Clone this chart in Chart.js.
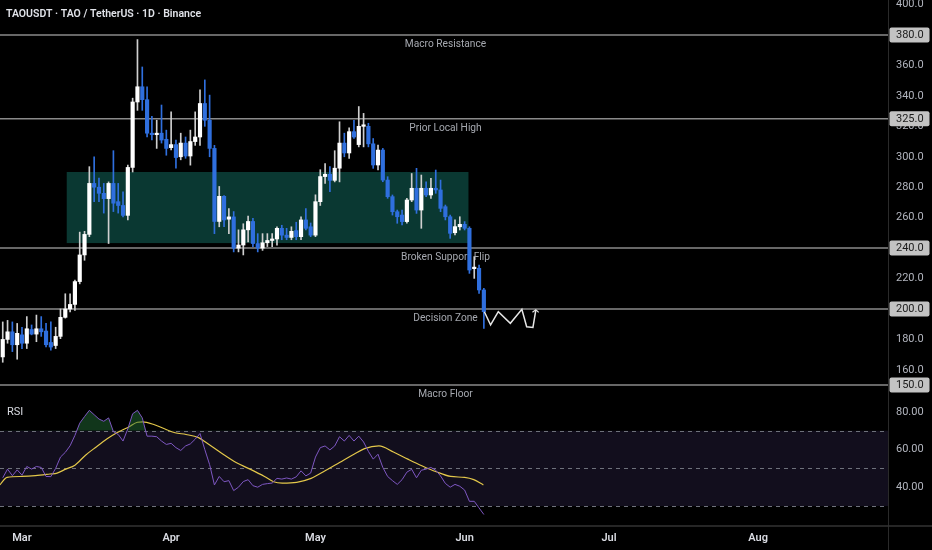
<!DOCTYPE html>
<html>
<head>
<meta charset="utf-8">
<script src="https://cdn.jsdelivr.net/npm/chart.js@4.4.1/dist/chart.umd.min.js"></script>
<style>
  html, body { margin: 0; padding: 0; background: #000; }
  #wrap { position: relative; width: 932px; height: 550px; overflow: hidden; background: #000; }
  #priceBox { position: absolute; left: 0; top: 0; width: 932px; height: 400px; }
  #rsiBox { position: absolute; left: 0; top: 400px; width: 932px; height: 150px; }
</style>
</head>
<body>
<div id="wrap">
  <div id="priceBox"><canvas id="priceChart"></canvas></div>
  <div id="rsiBox"><canvas id="rsiChart"></canvas></div>
</div>
<script>
// TAOUSDT 1D candles, day 0 = 1 Mar
const startDay = -4;
const opens = [
  168.5, 180, 185, 176.5, 183, 177.5, 186.5, 183.5, 187, 185.5,
  178, 176, 182, 194.5, 200, 203, 218, 235.5, 249, 282.5,
  280, 276, 272.5, 282.5, 270.5, 268, 261.5, 293, 336, 346,
  337.5, 315.5, 314.5, 315.5, 311.5, 306, 308, 300, 309, 300.5,
  310, 313, 335, 324, 305.5, 257.5, 274, 259, 260.5, 240,
  242, 252, 257.5, 243, 240, 243.5, 245, 246, 253, 248.5,
  247, 251.5, 247.5, 258.5, 254, 248.5, 270.5, 287, 288.5, 284.5,
  292.5, 309, 302.5, 316.5, 308, 320, 320, 308.5, 294.6, 304.4,
  284.7, 273.8, 263.9, 261.7, 257.4, 271.6, 279.3, 265, 279.3, 274.9,
  279.3, 278.2, 267.2, 260.6, 250.1, 254, 255.6, 253, 226.5, 226.7, 212.5
];
const highs = [
  191.5, 192.5, 191.5, 190.5, 188, 195, 189.5, 196, 195, 190.5,
  191.5, 188, 200, 210, 210, 219, 250.5, 251, 293.5, 300,
  286, 282.5, 283.5, 304, 282.5, 277, 294.5, 338.5, 377, 359,
  346, 326.5, 324, 334, 317.5, 329.5, 311, 315.5, 313, 317.5,
  329.5, 344, 350.5, 340.5, 307.5, 280.5, 274.5, 266, 264, 252,
  256, 261, 259.5, 249.5, 249.5, 249.5, 249.5, 254, 255, 253,
  254, 257, 260.5, 266, 256.5, 275, 291.5, 295.5, 293.5, 304,
  323, 315.5, 319, 324, 333, 328.5, 322, 312, 307.7, 305.5,
  286.9, 274.9, 265, 265, 272.7, 289, 292.4, 288, 283.6, 285.8,
  291.3, 284.7, 268.3, 261.7, 258.5, 260.6, 257.4, 254, 234.4, 228.9, 213.6
];
const lows = [
  165, 177.5, 172, 167, 174, 174, 183, 178.5, 182, 175,
  173, 174, 180.5, 194, 198, 199, 216.5, 232, 247.5, 270.5,
  270.5, 263, 243, 264, 263, 260.5, 258.5, 290, 330.5, 330.5,
  313, 311, 305.5, 309, 301, 304.5, 292.5, 298, 299, 294.5,
  307.5, 307.5, 320, 300, 249.5, 254, 254, 249.5, 237.5, 237.5,
  235.5, 244, 241, 237.5, 238.5, 241, 241, 242, 245.5, 245.5,
  245.5, 245.5, 245.5, 252, 247.5, 247.5, 268, 282.5, 277, 283.5,
  283.5, 300, 299, 312, 306.5, 306.5, 306.5, 292.4, 291.3, 283.6,
  272.7, 261.7, 256.3, 255.2, 256.3, 270.5, 262.8, 253, 273.8, 272.7,
  276, 263.9, 258.5, 246.4, 248.6, 251.9, 251.9, 223.4, 220.1, 210.3, 187.3
];
const closes = [
  180, 185, 176.5, 184, 177.5, 187, 183.5, 187, 185, 176.5,
  175, 182, 194.5, 200, 203, 218, 235.5, 249, 282.5, 280,
  276, 272.5, 282.5, 269.5, 268, 261.5, 293, 336, 346, 337.5,
  315.5, 314.5, 315.5, 311, 305.5, 308, 299.5, 309, 300.5, 310,
  313, 335, 324, 305.5, 257.5, 274, 258.5, 260.5, 240, 242,
  252, 257.5, 243, 240, 243.5, 245, 246, 253, 248.5, 247,
  251, 247.5, 258.5, 253, 248.5, 270.5, 287, 288.5, 284.5, 292.5,
  309, 302.5, 316.5, 313, 320, 321, 308.5, 294.6, 304.4, 284.7,
  273.8, 263.9, 260.6, 257.4, 271.6, 279.3, 265, 279.3, 274.9, 279.3,
  278.2, 266.1, 260.6, 249.7, 254.1, 255.6, 253, 225.6, 227.5, 212.5, 198.2
];

// RSI(14) per candle and its moving average (read at sparse days)
const rsiValues = [
  45, 49.6, 46.1, 49.2, 46.4, 51, 49.6, 51, 50.5, 45.7,
  45.6, 50, 56, 58.5, 62, 67.5, 74, 77.5, 80.8, 78.5,
  76.2, 75, 76.8, 69.5, 68, 64.5, 71, 79, 80.8, 76.8,
  67.1, 67.1, 66.8, 64.5, 62.7, 63.3, 61, 59.5, 61.9, 63,
  65.5, 68.5, 60, 52, 41.2, 45.7, 42.9, 43.5, 38.2, 40,
  43, 44, 40.8, 40, 41.5, 41.9, 42.2, 44.7, 44.3, 44.9,
  44.3, 45.5, 48.7, 46, 47.5, 56, 61, 61.9, 59.8, 61.9,
  66.8, 64.5, 67.5, 64.5, 67.1, 64, 59, 54.9, 57.5, 50.5,
  45.7, 43.5, 41.5, 44, 48, 49.5, 45, 49, 49.6, 50.5,
  49, 46, 42, 40, 41.5, 40.5, 38.5, 32.5, 32.5, 29, 25.5
];
const maDays = [-4.6, -3.1, 0, 2.8, 5.8, 7.3, 9.1, 11, 13.2, 15.5, 17.7, 19.9, 22.2, 24, 25.1,
  27.4, 29.6, 31.8, 34.1, 36.7, 38.5, 41.5, 44.5, 47.4, 50.4, 52.3, 54.1, 57.1, 60.1,
  63, 66, 69, 71.2, 74.2, 77.2, 80.2, 83.1, 86.1, 89.1, 92, 93.9, 95.9];
const maValues = [41.2, 45.2, 45.7, 46.1, 47, 47.5, 49.6, 51.7, 57, 61.5, 65.7, 69.2, 72, 74.5, 74.7,
  73.3, 71, 68.9, 68, 66.3, 63.3, 58, 53.1, 49.6, 45.7, 42.9, 42.2, 42.6, 44.7,
  48.7, 53.1, 57.5, 60.5, 61.9, 58.7, 54.9, 51.4, 48.2, 45.7, 45.2, 44, 41.2];

// drawn levels and the consolidation zone
const levels = [380, 325, 240, 200, 150];
const levelNames = ['Macro Resistance', 'Prior Local High', 'Broken Support Flip', 'Decision Zone', 'Macro Floor'];
const zoneDays = [9.3, 92.8];
const zonePrices = [243.3, 290];

// projected zigzag after the last candle
const pathDays = [96.1, 97.4, 99.0, 101.5, 103.9, 104.9, 106.2, 106.8];
const pathPrices = [198.2, 189.5, 198.2, 190.6, 199.8, 188.3, 187.9, 199.3];
const arrowDays = [106.1, 106.8, 107.4];
const arrowPrices = [197.9, 199.5, 197.8];

const priceTicks = [160, 180, 200, 220, 240, 260, 280, 300, 320, 340, 360, 380, 400];
const rsiTicks = [40, 60, 80];
const rsiLines = [70, 50, 30];
const monthTicks = [0, 31, 61, 92, 122, 153];
const monthNames = ['Mar', 'Apr', 'May', 'Jun', 'Jul', 'Aug'];

const dayRange = [-4.57, 180];
const priceRange = [140.2, 403];
const rsiRange = [19.4, 86.3];

const UP = '#ffffff';
const DOWN = '#2f6fde';
const FONT = 'Roboto';
const AXIS_W = 44;

const candleDays = opens.map((_, i) => startDay + i);
const upAt = i => closes[i] >= opens[i];

function fixAxis(width) {
  return s => { s.width = width; s.paddingTop = 0; s.paddingBottom = 0; };
}

const pricePlugin = {
  id: 'priceDecor',
  beforeDatasetsDraw(chart) {
    const { ctx, chartArea: a, scales: { x, y } } = chart;
    ctx.save();
    // zone
    ctx.fillStyle = '#0a3832';
    const zx0 = x.getPixelForValue(zoneDays[0]), zx1 = x.getPixelForValue(zoneDays[1]);
    const zy0 = y.getPixelForValue(zonePrices[1]), zy1 = y.getPixelForValue(zonePrices[0]);
    ctx.fillRect(zx0, zy0, zx1 - zx0, zy1 - zy0);
    // levels
    ctx.strokeStyle = '#8a8a8a';
    ctx.lineWidth = 1.5;
    ctx.font = '10.2px ' + FONT;
    ctx.textAlign = 'center';
    ctx.textBaseline = 'middle';
    levels.forEach((lv, i) => {
      const py = y.getPixelForValue(lv);
      ctx.beginPath();
      ctx.moveTo(a.left, py);
      ctx.lineTo(a.right, py);
      ctx.stroke();
      ctx.fillStyle = '#a6a9b0';
      ctx.fillText(levelNames[i], (a.left + a.right) / 2 + 1.5, py + 9.5);
    });
    ctx.restore();
  },
  afterDraw(chart) {
    const { ctx, chartArea: a, scales: { y } } = chart;
    ctx.save();
    ctx.strokeStyle = '#2a2a2a';
    ctx.lineWidth = 1;
    ctx.beginPath();
    ctx.moveTo(a.right + 0.5, 0);
    ctx.lineTo(a.right + 0.5, chart.height);
    ctx.stroke();
    // level price tags
    ctx.font = '11px ' + FONT;
    ctx.textAlign = 'left';
    ctx.textBaseline = 'middle';
    levels.forEach(lv => {
      const py = y.getPixelForValue(lv);
      ctx.fillStyle = '#c3c3c3';
      ctx.beginPath();
      ctx.roundRect(a.right + 1.5, py - 7.5, 40, 15, 2);
      ctx.fill();
      ctx.fillStyle = '#1a1a1a';
      ctx.fillText(lv.toFixed(1), a.right + 8, py + 0.5);
    });
    // title
    ctx.fillStyle = '#e0e2e8';
    ctx.font = '600 10.5px ' + FONT;
    ctx.fillText('TAOUSDT \u00b7 TAO / TetherUS \u00b7 1D \u00b7 Binance', 6, 14);
    ctx.restore();
  }
};

new Chart(document.getElementById('priceChart'), {
  type: 'bar',
  data: {
    datasets: [
      {
        type: 'line',
        data: pathDays.map((d, i) => ({ x: d, y: pathPrices[i] })),
        borderColor: '#e6e6e6', borderWidth: 1.5, pointRadius: 0, tension: 0, order: -2
      },
      {
        type: 'line',
        data: arrowDays.map((d, i) => ({ x: d, y: arrowPrices[i] })),
        borderColor: '#e6e6e6', borderWidth: 1.2, pointRadius: 0, tension: 0, order: -2
      },
      {
        type: 'bar',
        data: candleDays.map((d, i) => ({ x: d, y: [opens[i], closes[i]] })),
        backgroundColor: candleDays.map((_, i) => upAt(i) ? UP : DOWN),
        barThickness: 3.5, minBarLength: 1.2, borderWidth: 0, grouped: false, order: 0
      },
      {
        type: 'bar',
        data: candleDays.map((d, i) => ({ x: d, y: [lows[i], highs[i]] })),
        backgroundColor: candleDays.map((_, i) => upAt(i) ? '#cfcfcf' : DOWN),
        barThickness: 1, borderWidth: 0, grouped: false, order: 1
      }
    ]
  },
  options: {
    responsive: true,
    maintainAspectRatio: false,
    animation: false,
    layout: { padding: 0, autoPadding: false },
    plugins: { legend: { display: false }, tooltip: { enabled: false } },
    scales: {
      x: { type: 'linear', min: dayRange[0], max: dayRange[1], offset: false, display: false },
      y: {
        type: 'linear', position: 'right', min: priceRange[0], max: priceRange[1],
        grid: { display: false, drawTicks: false }, border: { display: false },
        afterBuildTicks: s => { s.ticks = priceTicks.map(v => ({ value: v })); },
        afterFit: fixAxis(AXIS_W),
        ticks: { color: '#b2b5be', font: { family: FONT, size: 11 }, padding: 8, callback: v => Number(v).toFixed(1) }
      }
    }
  },
  plugins: [pricePlugin]
});

const rsiPlugin = {
  id: 'rsiDecor',
  beforeDatasetsDraw(chart) {
    const { ctx, chartArea: a, scales: { y } } = chart;
    ctx.save();
    const top = y.getPixelForValue(rsiLines[0]), bottom = y.getPixelForValue(rsiLines[2]);
    ctx.fillStyle = '#120e1d';
    ctx.fillRect(a.left, top, a.right - a.left, bottom - top);
    ctx.strokeStyle = '#6e717b';
    ctx.lineWidth = 1;
    ctx.setLineDash([4, 4]);
    rsiLines.forEach(v => {
      const py = Math.round(y.getPixelForValue(v)) + 0.5;
      ctx.beginPath();
      ctx.moveTo(a.left, py);
      ctx.lineTo(a.right, py);
      ctx.stroke();
    });
    ctx.restore();
  },
  afterDraw(chart) {
    const { ctx, chartArea: a } = chart;
    ctx.save();
    ctx.strokeStyle = '#2a2a2a';
    ctx.lineWidth = 1;
    ctx.beginPath();
    ctx.moveTo(a.right + 0.5, 0);
    ctx.lineTo(a.right + 0.5, chart.height);
    ctx.stroke();
    ctx.strokeStyle = '#333333';
    ctx.lineWidth = 1.5;
    ctx.beginPath();
    ctx.moveTo(0, a.bottom);
    ctx.lineTo(chart.width, a.bottom);
    ctx.stroke();
    ctx.fillStyle = '#d9dbe2';
    ctx.font = '11px ' + FONT;
    ctx.textAlign = 'left';
    ctx.textBaseline = 'middle';
    ctx.fillText('RSI', 7, 12);
    ctx.restore();
  }
};

new Chart(document.getElementById('rsiChart'), {
  type: 'line',
  data: {
    datasets: [
      {
        data: candleDays.map((d, i) => ({ x: d, y: rsiValues[i] })),
        borderColor: '#7e57c2', borderWidth: 1, pointRadius: 0, tension: 0,
        fill: { target: { value: 70 }, above: 'rgba(38,120,60,0.45)', below: 'rgba(0,0,0,0)' }
      },
      {
        data: maDays.map((d, i) => ({ x: d, y: maValues[i] })),
        borderColor: '#e3c74a', borderWidth: 1.2, pointRadius: 0, cubicInterpolationMode: 'monotone', fill: false
      }
    ]
  },
  options: {
    responsive: true,
    maintainAspectRatio: false,
    animation: false,
    layout: { padding: 0, autoPadding: false },
    plugins: { legend: { display: false }, tooltip: { enabled: false } },
    scales: {
      x: {
        type: 'linear', min: dayRange[0], max: dayRange[1], offset: false,
        grid: { display: false, drawTicks: false }, border: { display: false },
        afterBuildTicks: s => { s.ticks = monthTicks.map(v => ({ value: v })); },
        afterFit: s => { s.height = 24; s.paddingLeft = 0; s.paddingRight = 0; },
        ticks: {
          color: '#d9dbe2', font: { family: FONT, size: 11, weight: '600' }, padding: 6,
          autoSkip: false, maxRotation: 0, callback: (v, i) => monthNames[i]
        }
      },
      y: {
        type: 'linear', position: 'right', min: rsiRange[0], max: rsiRange[1],
        grid: { display: false, drawTicks: false }, border: { display: false },
        afterBuildTicks: s => { s.ticks = rsiTicks.map(v => ({ value: v })); },
        afterFit: fixAxis(AXIS_W),
        ticks: { color: '#b2b5be', font: { family: FONT, size: 11 }, padding: 8, callback: v => Number(v).toFixed(2) }
      }
    }
  },
  plugins: [rsiPlugin]
});
</script>
</body>
</html>
